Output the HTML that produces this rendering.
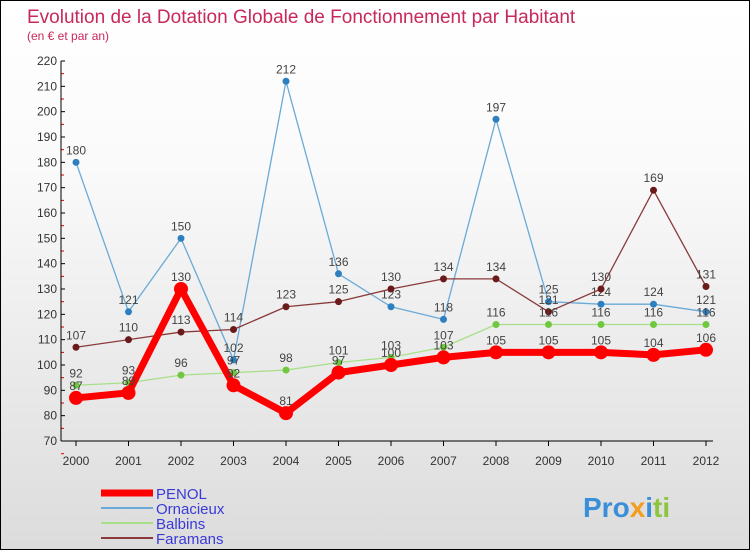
<!DOCTYPE html>
<html><head><meta charset="utf-8"><style>
body{margin:0;}
#wrap{width:748px;height:548px;border:1px solid #000;background:linear-gradient(#fff,#fafafa 30%,#dcdcdc);position:relative;overflow:hidden;font-family:"Liberation Sans",sans-serif;}
svg text{font-family:"Liberation Sans",sans-serif;}
</style></head><body>
<div id="wrap">
<svg id="chart" width="748" height="548">
<text x="26" y="22" font-size="19" fill="#c8285a">Evolution de la Dotation Globale de Fonctionnement par Habitant</text>
<text x="26" y="39" font-size="12" fill="#c8285a">(en € et par an)</text>
<g id="axes"></g><g id="series"></g><g id="legend"></g>
<text x="582" y="516" font-size="28" font-weight="bold" fill="#3a8fd8">Pro<tspan fill="#f39c1e">x</tspan><tspan fill="#3a8fd8">i</tspan><tspan fill="#8cc63f">ti</tspan></text>
</svg></div>
<script>
const years=[2000,2001,2002,2003,2004,2005,2006,2007,2008,2009,2010,2011,2012];
const yTicks=[70,80,90,100,110,120,130,140,150,160,170,180,190,200,210,220];
const penol=[87,89,130,92,81,97,100,103,105,105,105,104,106];
const ornacieux=[180,121,150,102,212,136,123,118,197,125,124,124,121];
const balbins=[92,93,96,97,98,101,103,107,116,116,116,116,116];
const faramans=[107,110,113,114,123,125,130,134,134,121,130,169,131];
const NS='http://www.w3.org/2000/svg';
const xs=i=>75+i*52.5, ys=v=>440-(v-70)*380/150;
function mk(t,a,p){const e=document.createElementNS(NS,t);for(const k in a)e.setAttribute(k,a[k]);p.appendChild(e);return e;}
const ax=document.getElementById('axes');
yTicks.forEach(v=>{
 const t=mk('text',{x:56,y:ys(v)+4,'font-size':12,'text-anchor':'end',fill:'#333'},ax);t.textContent=v;
 
 mk('line',{x1:60,x2:64,y1:ys(v),y2:ys(v),stroke:'#000'},ax);
 mk('line',{x1:60,x2:63,y1:ys(v)+12.7,y2:ys(v)+12.7,stroke:'#d00'},ax);
});
const ya=mk('line',{x1:60,x2:60,y1:60,y2:440,stroke:'#000'},ax);
const xa=mk('line',{x1:60,x2:712,y1:440,y2:440,stroke:'#000'},ax);
years.forEach((y,i)=>{
 const t=mk('text',{x:xs(i),y:464,'font-size':12,'text-anchor':'middle',fill:'#333'},ax);t.textContent=y;
 
 mk('line',{x1:xs(i),x2:xs(i),y1:440,y2:445,stroke:'#000'},ax);
});
const sg=document.getElementById('series');
function series(name,data,color,dot,w,r){
 const g=mk('g',{},sg);
 const p=mk('polyline',{points:data.map((v,i)=>xs(i)+','+ys(v)).join(' '),fill:'none',stroke:color,'stroke-width':w,'stroke-linejoin':'round'},g);
 
 data.forEach((v,i)=>{
  const c=mk('circle',{cx:xs(i),cy:ys(v),r:r,fill:dot},g);
  
  const t=mk('text',{x:xs(i),y:ys(v)-8,'font-size':12,'text-anchor':'middle',fill:'#444'},g);t.textContent=v;
  
 });
}
series('ornacieux',ornacieux,'#6aaad8','#2e7fc0',1.3,3.5);
series('faramans',faramans,'#8a3a3a','#6a1a1a',1.3,3.5);
series('balbins',balbins,'#a8e08a','#70c840',1.3,3.5);
series('penol',penol,'#ff0000','#ff0000',7,7);
const lg=document.getElementById('legend');
[['PENOL','#ff0000',7],['Ornacieux','#6aaad8',2],['Balbins','#a8e08a',2],['Faramans','#8a3a3a',2]].forEach((d,i)=>{
 const y=492+i*15;
 const l=mk('line',{x1:100,x2:152,y1:y,y2:y,stroke:d[1],'stroke-width':d[2]},lg);
 
 const t=mk('text',{x:155,y:y+6,'font-size':15,fill:'#3a3ad8'},lg);t.textContent=d[0];
 
});
</script></body></html>
